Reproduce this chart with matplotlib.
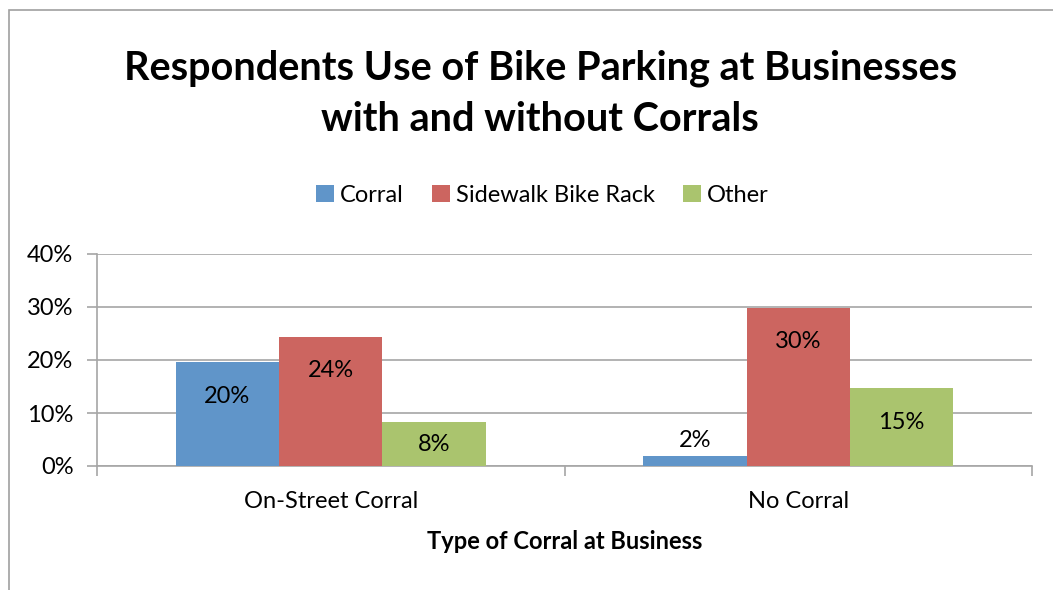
import numpy as np
from matplotlib import pyplot as plt
from matplotlib.patches import Rectangle
from matplotlib.ticker import FixedLocator, PercentFormatter

categories = ["On-Street Corral", "No Corral"]
series = ["Corral", "Sidewalk Bike Rack", "Other"]
corral = [19.6, 1.8]
sidewalk = [24.4, 29.8]
other = [8.3, 14.7]
labels = [["20%", "2%"], ["24%", "30%"], ["8%", "15%"]]

colors = ["#6095C9", "#CC6560", "#AAC46E"]
grid_c = "#A6A6A6"
fs = 17

plt.rcParams['font.family'] = ['Lato', 'DejaVu Sans']

fig = plt.figure(figsize=(10.53, 5.90), dpi=100)
# chart border (cut off at right and bottom like the reference)
fig.patches.append(Rectangle((9/1053, -0.1), 1.2, 1 - 10/590 + 0.1,
                             transform=fig.transFigure, fill=False,
                             edgecolor="#A0A0A0", lw=1.2))

ax = fig.add_axes([97/1053, 1 - 466/590, (1032 - 97)/1053, (466 - 254)/590])

x = np.arange(len(categories))
w = 0.221
values = [corral, sidewalk, other]
bars = []
for i, (vals, col, name) in enumerate(zip(values, colors, series)):
    b = ax.bar(x + (i - 1) * w, vals, w, color=col, label=name, zorder=3)
    bars.append(b)
    for xi, v, lab in zip(x + (i - 1) * w, vals, labels[i]):
        if v - 6.4 > v / 2:
            y = v - 6.4
        elif v > 5:
            y = v / 2
        else:
            y = v + 3
        ax.text(xi, y, lab, ha='center', va='center', fontsize=fs, color='black', zorder=4)

ax.set_xlim(-0.5, 1.5)
ax.set_ylim(0, 40)
ax.yaxis.set_major_locator(FixedLocator([0, 10, 20, 30, 40]))
ax.yaxis.set_major_formatter(PercentFormatter(decimals=0))
ax.grid(axis='y', color=grid_c, lw=1.2, zorder=0)

ax.set_xticks(x)
ax.set_xticklabels(categories)
ax.set_xticks([-0.5, 0.5, 1.5], minor=True)
ax.tick_params(axis='x', which='major', length=0, pad=18, labelsize=fs)
ax.tick_params(axis='x', which='minor', length=7, color=grid_c, width=1.2)
ax.tick_params(axis='y', length=7, color=grid_c, width=1.2, pad=10, labelsize=fs)

for s in ['top', 'right']:
    ax.spines[s].set_visible(False)
for s in ['left', 'bottom']:
    ax.spines[s].set_color(grid_c)
    ax.spines[s].set_linewidth(1.2)

ax.set_xlabel("Type of Corral at Business", fontsize=fs, fontweight='bold', labelpad=13)

fig.text(0.513, 1 - 94/590, "Respondents Use of Bike Parking at Businesses\nwith and without Corrals",
         ha='center', va='center', fontsize=28.5, fontweight='bold', linespacing=1.45)

fig.legend(handles=bars, labels=series, loc='center', bbox_to_anchor=(0.515, 1 - 195/590),
           ncol=3, frameon=False, fontsize=fs, handlelength=0.75, handleheight=0.75,
           handletextpad=0.25, columnspacing=1.2)

fig.savefig("out.png", dpi=100)
